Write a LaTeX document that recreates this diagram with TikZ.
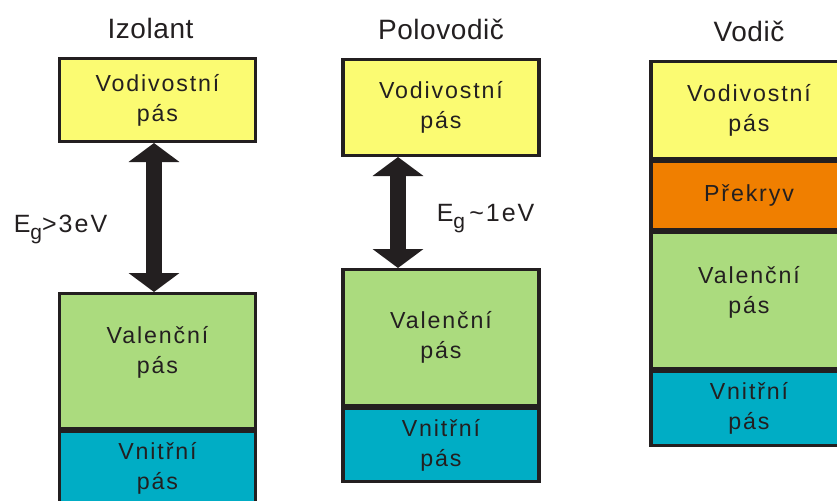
\documentclass[tikz,border=0pt]{standalone}
\usepackage{fontspec}
\setmainfont{Liberation Sans}[LetterSpace=8]
\usetikzlibrary{arrows.meta,positioning}

\definecolor{linka}{HTML}{231F20}
\definecolor{vodivy}{HTML}{FBFB72}
\definecolor{prekryv}{HTML}{F07F00}
\definecolor{valencni}{HTML}{ABDB7E}
\definecolor{vnitrni}{HTML}{00ADC5}

\newcommand{\Egap}{E\raisebox{-0.3em}{\fontsize{10.5}{10.5}\selectfont g}}

\begin{document}
\begin{tikzpicture}[
        x = 0.5pt, y = -0.5pt, % one unit = one pixel of the picture
        text = linka,
        font = \fontsize{11.6}{15}\selectfont
    ]

    \tikzstyle{band}=[
        draw = linka,
        line width = 1.6pt,
        minimum width = 98pt,
        align = center
    ]
    \tikzstyle{raised}=[text depth = 11pt] % text sits high in the box
    \tikzstyle{title}=[inner sep = 0pt, font = \fontsize{14}{16}\selectfont\addfontfeatures{LetterSpace=2}]
    \tikzstyle{gap}=[
        draw = linka,
        line width = 7.8pt,
        {Triangle[width=25pt,length=9.5pt]}-{Triangle[width=25pt,length=9.5pt]}
    ]
    \tikzstyle{gaplabel}=[inner sep = 0pt, font = \fontsize{12.5}{15}\selectfont]

    \useasboundingbox (0,0) rectangle (837,500);
    \clip (0,0) rectangle (837,500);

    % Izolant
    \node[band, fill=vodivy, minimum height=41.4pt, anchor=north] (I1) at (157.5,57) {Vodivostní\\pás};
    \node[band, fill=valencni, minimum height=67.4pt, raised] (I2) [below=74.5pt of I1] {Valenční\\pás};
    \node[band, fill=vnitrni, minimum height=36.4pt] (I3) [below=0pt of I2] {Vnitřní\\pás};
    \node[title, xshift=-3.5pt] (TI) [above=9pt of I1] {Izolant};

    % Polovodic
    \node[band, fill=vodivy, minimum height=47.9pt, anchor=north] (P1) at (441,58) {Vodivostní\\pás};
    \node[band, fill=valencni, minimum height=67.9pt] (P2) [below=55.5pt of P1] {Valenční\\pás};
    \node[band, fill=vnitrni, minimum height=36.4pt] (P3) [below=0pt of P2] {Vnitřní\\pás};
    \node[title] (TP) [above=9pt of P1] {Polovodič};

    % Vodic
    \node[band, fill=vodivy, minimum height=48.4pt, anchor=north] (V1) at (749,60) {Vodivostní\\pás};
    \node[band, fill=prekryv, minimum height=33.9pt] (V2) [below=0pt of V1] {Překryv};
    \node[band, fill=valencni, minimum height=67.9pt, raised] (V3) [below=0pt of V2] {Valenční\\pás};
    \node[band, fill=vnitrni, minimum height=36.9pt] (V4) [below=0pt of V3] {Vnitřní\\pás};
    \node[title] (TV) [above=9pt of V1] {Vodič};

    % band gaps
    \draw[gap] ([xshift=-1.75pt]I1.south) -- node[gaplabel, left=19.5pt, yshift=-6pt] {\Egap>3eV} ([xshift=-1.75pt]I2.north);
    \draw[gap] ([xshift=-21.5pt]P1.south) -- node[gaplabel, right=15.5pt, yshift=-3pt] {\Egap\,\textasciitilde1eV} ([xshift=-21.5pt]P2.north);
\end{tikzpicture}
\end{document}
